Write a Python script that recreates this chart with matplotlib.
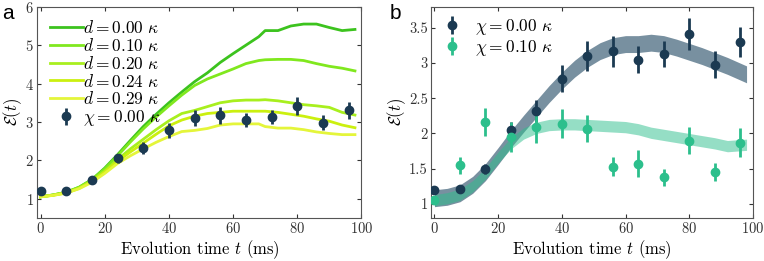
import matplotlib
matplotlib.use("Agg")
import matplotlib.pyplot as plt
import numpy as np

plt.rcParams['font.family'] = 'serif'
plt.rcParams['font.serif'] = ['cmr10']
plt.rcParams['mathtext.fontset'] = 'cm'
plt.rcParams['axes.formatter.use_mathtext'] = True

# measured data (both panels)
t_pts = [0, 8, 16, 24, 32, 40, 48, 56, 64, 72, 80, 88, 96]
e_chi0 = [1.20, 1.21, 1.50, 2.05, 2.32, 2.78, 3.10, 3.17, 3.05, 3.13, 3.41, 2.98, 3.30]
err_chi0 = [0.04, 0.04, 0.07, 0.12, 0.15, 0.19, 0.21, 0.22, 0.19, 0.19, 0.23, 0.19, 0.21]
e_chi1 = [1.05, 1.55, 2.16, 1.95, 2.09, 2.14, 2.07, 1.53, 1.57, 1.38, 1.90, 1.45, 1.87]
err_chi1 = [0.03, 0.12, 0.20, 0.22, 0.23, 0.21, 0.19, 0.14, 0.19, 0.12, 0.19, 0.13, 0.21]

# simulated curves, panel a
t_sim = [0, 4, 8, 12, 16, 20, 24, 28, 32, 36, 40, 44, 48, 52, 56, 60, 64, 68, 70, 74, 78, 82, 86, 90, 94, 98]
d_labels = ['0.00', '0.10', '0.20', '0.24', '0.29']
d_curves = [
    [1.05, 1.10, 1.17, 1.30, 1.50, 1.80, 2.15, 2.52, 2.88, 3.20, 3.50, 3.78, 4.05, 4.28, 4.55, 4.78, 5.00, 5.22, 5.38, 5.38, 5.50, 5.55, 5.55, 5.46, 5.38, 5.41],
    [1.05, 1.10, 1.17, 1.30, 1.50, 1.78, 2.12, 2.48, 2.82, 3.13, 3.42, 3.70, 3.95, 4.12, 4.25, 4.38, 4.52, 4.60, 4.62, 4.63, 4.63, 4.60, 4.52, 4.45, 4.40, 4.33],
    [1.05, 1.10, 1.16, 1.28, 1.47, 1.72, 2.02, 2.30, 2.55, 2.80, 3.03, 3.22, 3.30, 3.40, 3.50, 3.55, 3.57, 3.57, 3.58, 3.55, 3.50, 3.45, 3.42, 3.38, 3.25, 3.18],
    [1.05, 1.09, 1.15, 1.27, 1.45, 1.70, 1.98, 2.22, 2.45, 2.68, 2.90, 3.05, 3.15, 3.22, 3.25, 3.28, 3.28, 3.28, 3.28, 3.25, 3.20, 3.15, 3.08, 3.02, 2.92, 2.85],
    [1.05, 1.09, 1.15, 1.26, 1.43, 1.66, 1.92, 2.12, 2.30, 2.47, 2.62, 2.75, 2.78, 2.83, 2.92, 2.95, 2.95, 2.95, 2.88, 2.84, 2.84, 2.80, 2.74, 2.70, 2.67, 2.67],
]
d_colors = ['#3cc31e', '#80e81e', '#a8ef1e', '#cbf00f', '#e4f53a']

# simulated bands, panel b
t_band = [0, 4, 8, 12, 16, 20, 24, 28, 32, 36, 40, 44, 48, 52, 56, 60, 64, 68, 72, 76, 80, 84, 88, 92, 98]
band_chi0 = [1.08, 1.10, 1.15, 1.27, 1.45, 1.68, 1.92, 2.14, 2.35, 2.56, 2.75, 2.92, 3.06, 3.17, 3.24, 3.27, 3.27, 3.29, 3.27, 3.22, 3.16, 3.10, 3.03, 2.96, 2.84]
band_chi1 = [1.05, 1.08, 1.13, 1.25, 1.43, 1.66, 1.86, 2.00, 2.08, 2.12, 2.13, 2.13, 2.12, 2.11, 2.10, 2.09, 2.06, 2.01, 1.98, 1.95, 1.92, 1.89, 1.86, 1.82, 1.84]
hw_chi0 = 0.12
hw_chi1 = 0.08

navy = '#1b3a52'
teal = '#2cbf8c'

fig = plt.figure(figsize=(7.64, 2.61), dpi=100)
ax1 = fig.add_axes([0.049, 0.165, 0.424, 0.809])
ax2 = fig.add_axes([0.5645, 0.165, 0.421, 0.809])

for i in range(len(d_labels)):
    ax1.plot(t_sim, d_curves[i], color=d_colors[i], lw=2, label=rf'$d = {d_labels[i]}\ \kappa$')
ax1.errorbar(t_pts, e_chi0, yerr=err_chi0, fmt='o', color=navy, ms=6, elinewidth=2,
             capsize=0, label=r'$\chi = 0.00\ \kappa$', zorder=5)
ax1.set_xlim(-1, 100)
ax1.set_ylim(0.5, 6)
ax1.set_yticks([1, 2, 3, 4, 5, 6])
ax1.set_xticks([0, 20, 40, 60, 80, 100])
ax1.legend(loc='upper left', frameon=False, fontsize=12.5, handlelength=1.9,
           borderaxespad=0.1, borderpad=0.6, labelspacing=0.05, handletextpad=0.0)

ax2.fill_between(t_band, np.array(band_chi0) - hw_chi0, np.array(band_chi0) + hw_chi0,
                 color='#7890a0', lw=0)
ax2.fill_between(t_band, np.array(band_chi1) - hw_chi1, np.array(band_chi1) + hw_chi1,
                 color=teal, alpha=0.5, lw=0)
ax2.errorbar(t_pts, e_chi0, yerr=err_chi0, fmt='o', color=navy, ms=6, elinewidth=2,
             capsize=0, label=r'$\chi = 0.00\ \kappa$', zorder=5)
ax2.errorbar(t_pts, e_chi1, yerr=err_chi1, fmt='o', color=teal, ms=6, elinewidth=2,
             capsize=0, label=r'$\chi = 0.10\ \kappa$', zorder=5)
ax2.set_xlim(-1, 100)
ax2.set_ylim(0.8, 3.8)
ax2.set_yticks([1, 1.5, 2, 2.5, 3, 3.5])
ax2.set_yticklabels(['1', '1.5', '2', '2.5', '3', '3.5'])
ax2.set_xticks([0, 20, 40, 60, 80, 100])
ax2.legend(loc='upper left', frameon=False, fontsize=12.5, handlelength=1.2,
           borderaxespad=0.2, labelspacing=0.05, handletextpad=0.7)

for ax in (ax1, ax2):
    ax.tick_params(direction='in', top=True, right=True, labelsize=10.5, colors='#333333',
                   length=3, pad=2.5)
    for s in ax.spines.values():
        s.set_color('#555555')
        s.set_linewidth(0.8)
    ax.set_xlabel(r'Evolution time $t$ (ms)', fontsize=12, labelpad=1)
    ax.set_ylabel(r'$\mathcal{E}(t)$', fontsize=12, labelpad=1)

fig.text(0.003, 0.985, 'a', fontsize=15, family='Liberation Sans', va='top')
fig.text(0.5105, 0.985, 'b', fontsize=15, family='Liberation Sans', va='top')

fig.savefig('out.png', dpi=100)
